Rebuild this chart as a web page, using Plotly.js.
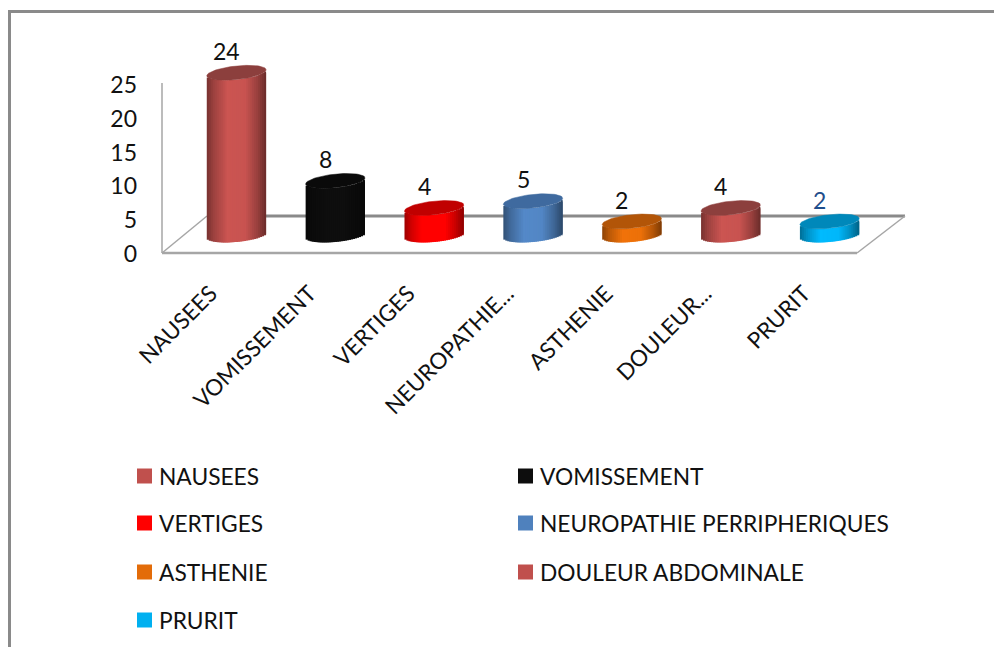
<!DOCTYPE html>
<html>
<head>
<meta charset="utf-8">
<script src="https://cdn.plot.ly/plotly-3.0.1.min.js"></script>
<style>html,body{margin:0;padding:0;background:#fff}</style>
</head>
<body>
<div id="chart" style="width:994px;height:647px"></div>
<script>
// Side effects reported by patients
const categories = ["NAUSEES","VOMISSEMENT","VERTIGES","NEUROPATHIE PERRIPHERIQUES","ASTHENIE","DOULEUR ABDOMINALE","PRURIT"];
const tickLabels = ["NAUSEES","VOMISSEMENT","VERTIGES","NEUROPATHIE...","ASTHENIE","DOULEUR...","PRURIT"];
const values = [24,8,4,5,2,4,2];
const yTicks = [0,5,10,15,20,25];

const bodyColors = ["#C0504D","#0D0D0D","#FF0000","#4F81BD","#E36C09","#C0504D","#00B0F0"];
const capColors = ["#8C3F3D","#0A0A0A","#C00000","#3F6A9F","#B25508","#8C3F3D","#0088BA"];
const labelColors = ["#111","#111","#111","#111","#111","#111","#1F4E8C"];

const W = 994, H = 647;
const FONT = "Lato, Carlito, sans-serif";
const px = {left:187, right:879, y0:253, perUnit:6.76, yMax:29};
const pxX = v => v / W, pxY = v => 1 - v / H;
const depthBase = 2.66;        // value height of the cylinder axis foot above the front floor edge
const barWidth = 0.6, strips = 30;
const capHalf = 6.8 / px.perUnit, tilt = 3 / px.perUnit;

// Light falling across the round side of a cylinder
const shadeStops = [[0,.62],[.12,.82],[.35,1.06],[.65,1.04],[.85,.8],[1,.55]];
function shade(t){
  for(let i=1;i<shadeStops.length;i++){
    if(t<=shadeStops[i][0]){
      const [a,fa]=shadeStops[i-1],[b,fb]=shadeStops[i];
      return fa+(fb-fa)*(t-a)/(b-a);
    }
  }
  return shadeStops[shadeStops.length-1][1];
}
function tint(hex,f){
  const n=parseInt(hex.slice(1),16);
  const c=[n>>16&255,n>>8&255,n&255].map(v=>Math.min(255,Math.round(v*f)));
  return `rgb(${c[0]},${c[1]},${c[2]})`;
}

const traces=[];
categories.forEach((name,i)=>{
  const xs=[],widths=[],bases=[],ys=[],cols=[];
  const step=barWidth/strips;
  for(let k=0;k<strips;k++){
    // each strip runs under its right-hand neighbour so no seam shows
    const t=(k+.5)/strips,u=2*t-1;
    const w=k<strips-1?step*2:step;
    xs.push(i-barWidth/2+k*step+w/2);
    widths.push(w);
    bases.push(depthBase-capHalf*Math.sqrt(1-u*u)+tilt*u);
    ys.push(values[i]);
    cols.push(tint(bodyColors[i],shade(t)));
  }
  traces.push({type:"bar",name,x:xs,y:ys,base:bases,width:widths,
    marker:{color:cols,line:{width:0}},hoverinfo:"skip",showlegend:false});
  // top face of the cylinder
  const cx=[],cy=[];
  for(let a=0;a<=72;a++){
    const th=a/72*2*Math.PI;
    cx.push(i+Math.cos(th)*barWidth/2);
    cy.push(depthBase+values[i]+capHalf*Math.sin(th)+tilt*Math.cos(th));
  }
  traces.push({type:"scatter",mode:"lines",x:cx,y:cy,fill:"toself",fillcolor:capColors[i],
    line:{width:0.5,color:capColors[i]},hoverinfo:"skip",showlegend:false});
});

const grey="#8A8A8A", soft="#A6A6A6";
const pline=(x0,y0,x1,y1,color,width)=>({type:"line",xref:"paper",yref:"paper",
  x0:pxX(x0),y0:pxY(y0),x1:pxX(x1),y1:pxY(y1),line:{color,width},layer:"below"});

const shapes=[
  pline(9.5,11.5,9.5,647,grey,3),
  pline(8,11.5,994,11.5,grey,3),
  pline(162,83,162,253,soft,1.5),
  pline(162,253,857,253,soft,2.5),
  pline(207,216,905,216,grey,3),
  pline(162,253,207,216,soft,1.5),
  pline(857,253,905,216,soft,1.5)
];

// Value labels sit just above each top face
const annotations=values.map((v,i)=>({
  x:i,y:depthBase+v+capHalf,xref:"x",yref:"y",text:String(v),showarrow:false,
  xshift:-10,yshift:-1,yanchor:"bottom",font:{family:FONT,size:23,color:labelColors[i]}
}));

// Key, two columns of coloured squares with their names
const rows=[476,523,572,620], cols=[137,518];
categories.forEach((name,i)=>{
  const cx=cols[i%2], cy=rows[Math.floor(i/2)];
  shapes.push({type:"rect",xref:"paper",yref:"paper",x0:pxX(cx),x1:pxX(cx+15),
    y0:pxY(cy+7.5),y1:pxY(cy-7.5),fillcolor:bodyColors[i],line:{width:0}});
  annotations.push({xref:"paper",yref:"paper",x:pxX(cx+20),y:pxY(cy),xanchor:"left",yanchor:"middle",
    text:name,showarrow:false,font:{family:FONT,size:22.75,color:"#111"}});
});

const layout={
  width:W,height:H,margin:{l:0,r:0,t:0,b:0},
  paper_bgcolor:"#fff",plot_bgcolor:"rgba(0,0,0,0)",
  barmode:"overlay",showlegend:false,shapes,annotations,
  xaxis:{domain:[pxX(px.left),pxX(px.right)],range:[-0.5,6.5],anchor:"y",
    tickmode:"array",tickvals:tickLabels.map((_,i)=>i-0.26),ticktext:tickLabels,
    tickangle:-45,ticks:"",showgrid:false,zeroline:false,showline:false,ticklabelstandoff:22,
    tickfont:{family:FONT,size:22.5,color:"#111"}},
  yaxis:{domain:[pxY(px.y0),pxY(px.y0-px.yMax*px.perUnit)],range:[0,px.yMax],
    anchor:"free",position:pxX(137),ticklabelshift:1,
    tickmode:"array",tickvals:yTicks,ticks:"",showgrid:false,zeroline:false,showline:false,
    tickfont:{family:FONT,size:23,color:"#111"}}
};

Plotly.newPlot("chart",traces,layout,{displayModeBar:false,staticPlot:true});
</script>
</body>
</html>
